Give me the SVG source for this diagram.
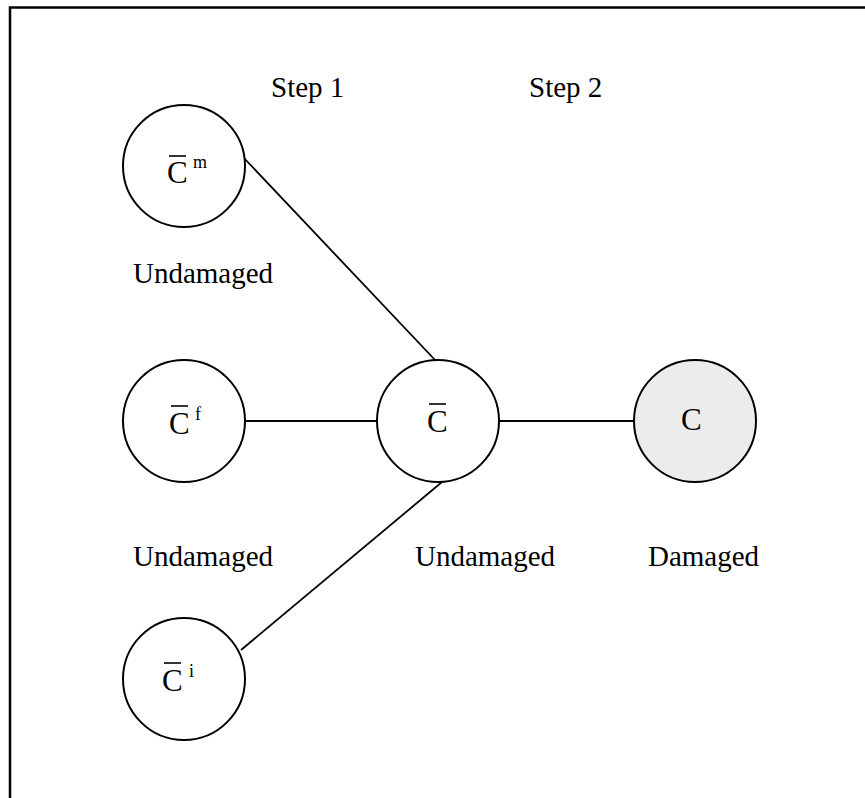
<svg xmlns="http://www.w3.org/2000/svg" width="865" height="798" viewBox="0 0 865 798">
<style>
.node circle{fill:#fff;stroke:#000;stroke-width:2}
.node.dmg circle{fill:#ececec}
text{font-family:"Liberation Serif","Times New Roman",serif;fill:#000}
.lbl{font-size:29px}
.sym{font-size:31px}
.sup{font-size:18px}
.bar{stroke:#000;stroke-width:1.6}
.edges line{stroke:#000;stroke-width:1.8}
</style>
<rect width="865" height="798" fill="#fff"/>
<path d="M10,798 V7.5 H865" fill="none" stroke="#000" stroke-width="2.5"/>
<text class="lbl" x="271" y="97">Step 1</text>
<text class="lbl" x="529" y="97">Step 2</text>
<text class="lbl" x="133" y="283">Undamaged</text>
<text class="lbl" x="133" y="566">Undamaged</text>
<text class="lbl" x="415" y="566">Undamaged</text>
<text class="lbl" x="648" y="566">Damaged</text>
<g class="edges">
<line x1="243" y1="157" x2="436" y2="361"/>
<line x1="245" y1="421" x2="377" y2="421"/>
<line x1="498" y1="421" x2="634" y2="421"/>
<line x1="442" y1="482" x2="241" y2="650"/>
</g>
<g id="node-cm" class="node">
<circle cx="184" cy="166" r="61"/>
<text class="sym" x="167" y="183">C</text>
<line class="bar" x1="169" y1="156" x2="186" y2="156"/>
<text class="sup" x="193" y="168">m</text>
</g>
<g id="node-cf" class="node">
<circle cx="184" cy="421" r="61"/>
<text class="sym" x="169" y="434">C</text>
<line class="bar" x1="171" y1="406" x2="188" y2="406"/>
<text class="sup" x="195" y="420">f</text>
</g>
<g id="node-ci" class="node">
<circle cx="184" cy="679" r="61"/>
<text class="sym" x="162" y="691">C</text>
<line class="bar" x1="164" y1="663" x2="181" y2="663"/>
<text class="sup" x="189" y="677">i</text>
</g>
<g id="node-c" class="node">
<circle cx="438" cy="421" r="61"/>
<text class="sym" x="427" y="432">C</text>
<line class="bar" x1="429" y1="404" x2="446" y2="404"/>
</g>
<g id="node-damaged" class="node dmg">
<circle cx="695" cy="421" r="61"/>
<text class="sym" x="681" y="430">C</text>
</g>
</svg>
